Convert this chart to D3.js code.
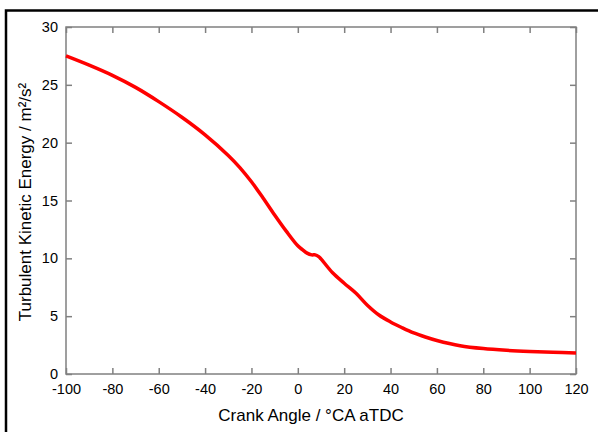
<!DOCTYPE html>
<html>
<head>
<meta charset="utf-8">
<script src="https://cdn.jsdelivr.net/npm/d3@7"></script>
<style>
  body { margin: 0; background: #fff; }
  svg { display: block; font-family: "Liberation Sans", Arial, sans-serif; }
</style>
</head>
<body>
<svg width="598" height="432"></svg>
<script>
// crank angle (°CA aTDC) and turbulent kinetic energy (m²/s²)
let crankAngle = [-100, -90, -80, -70, -60, -50, -40, -30, -25, -20, -15, -10, -5, 0, 2, 4, 6, 7.5, 9, 10, 15, 20, 25, 30, 35, 40, 45, 50, 55, 60, 70, 80, 90, 100, 110, 120]
let tke = [27.5, 26.7, 25.82, 24.78, 23.55, 22.2, 20.68, 18.9, 17.85, 16.62, 15.22, 13.75, 12.35, 11.08, 10.75, 10.45, 10.3, 10.3, 10.15, 9.95, 8.75, 7.85, 7.0, 5.95, 5.1, 4.5, 4.0, 3.55, 3.2, 2.9, 2.45, 2.2, 2.05, 1.95, 1.88, 1.82]

let xTicks = [-100, -80, -60, -40, -20, 0, 20, 40, 60, 80, 100, 120]
let yTicks = [0, 5, 10, 15, 20, 25, 30]

let svg = d3.select('svg')
let plotLeft = 66, plotRight = 576, plotTop = 27, plotBottom = 374

// frame around the figure (only top and left edges visible)
svg.append('path')
    .attr('d', 'M6,440 L6,10.5 L610,10.5')
    .attr('fill', 'none')
    .attr('stroke', '#000')
    .attr('stroke-width', 2.5)

let x = d3.scaleLinear().domain([-100, 120]).range([plotLeft, plotRight])
let y = d3.scaleLinear().domain([0, 30]).range([plotBottom, plotTop])

let axisColor = '#808080'
let plainFormat = d => String(d)

let styleAxis = (g, showText) => {
    g.select('.domain').remove()
    g.selectAll('.tick line').attr('stroke', axisColor).attr('stroke-width', 1.5)
    g.selectAll('.tick text')
        .attr('fill', '#000')
        .attr('font-size', 14.5)
        .style('display', showText ? null : 'none')
}

// bottom axis, ticks pointing inward
svg.append('g')
    .attr('transform', `translate(0,${plotBottom})`)
    .call(d3.axisBottom(x).tickValues(xTicks).tickFormat(plainFormat).tickSizeInner(-6).tickSizeOuter(0).tickPadding(10))
    .call(g => styleAxis(g, true))

// top axis
svg.append('g')
    .attr('transform', `translate(0,${plotTop})`)
    .call(d3.axisTop(x).tickValues(xTicks).tickSizeInner(-6).tickSizeOuter(0))
    .call(g => styleAxis(g, false))

// left axis
svg.append('g')
    .attr('transform', `translate(${plotLeft},0)`)
    .call(d3.axisLeft(y).tickValues(yTicks).tickFormat(plainFormat).tickSizeInner(-6).tickSizeOuter(0).tickPadding(8))
    .call(g => styleAxis(g, true))

// right axis
svg.append('g')
    .attr('transform', `translate(${plotRight},0)`)
    .call(d3.axisRight(y).tickValues(yTicks).tickSizeInner(-6).tickSizeOuter(0))
    .call(g => styleAxis(g, false))

// plot box
svg.append('rect')
    .attr('x', plotLeft)
    .attr('y', plotTop)
    .attr('width', plotRight - plotLeft)
    .attr('height', plotBottom - plotTop)
    .attr('fill', 'none')
    .attr('stroke', axisColor)
    .attr('stroke-width', 1.5)

let line = d3.line()
    .x((d, i) => x(crankAngle[i]))
    .y(d => y(d))
    .curve(d3.curveCatmullRom.alpha(0.5))

svg.append('path')
    .datum(tke)
    .attr('d', line)
    .attr('fill', 'none')
    .attr('stroke', '#ff0000')
    .attr('stroke-width', 3.5)
    .attr('stroke-linejoin', 'round')

svg.append('text')
    .attr('x', 311)
    .attr('y', 421)
    .attr('text-anchor', 'middle')
    .attr('font-size', 17)
    .attr('fill', '#000')
    .text('Crank Angle / °CA aTDC')

svg.append('text')
    .attr('transform', `translate(31,202) rotate(-90)`)
    .attr('text-anchor', 'middle')
    .attr('font-size', 17)
    .attr('fill', '#000')
    .text('Turbulent Kinetic Energy  / m²/s²')
</script>
</body>
</html>
